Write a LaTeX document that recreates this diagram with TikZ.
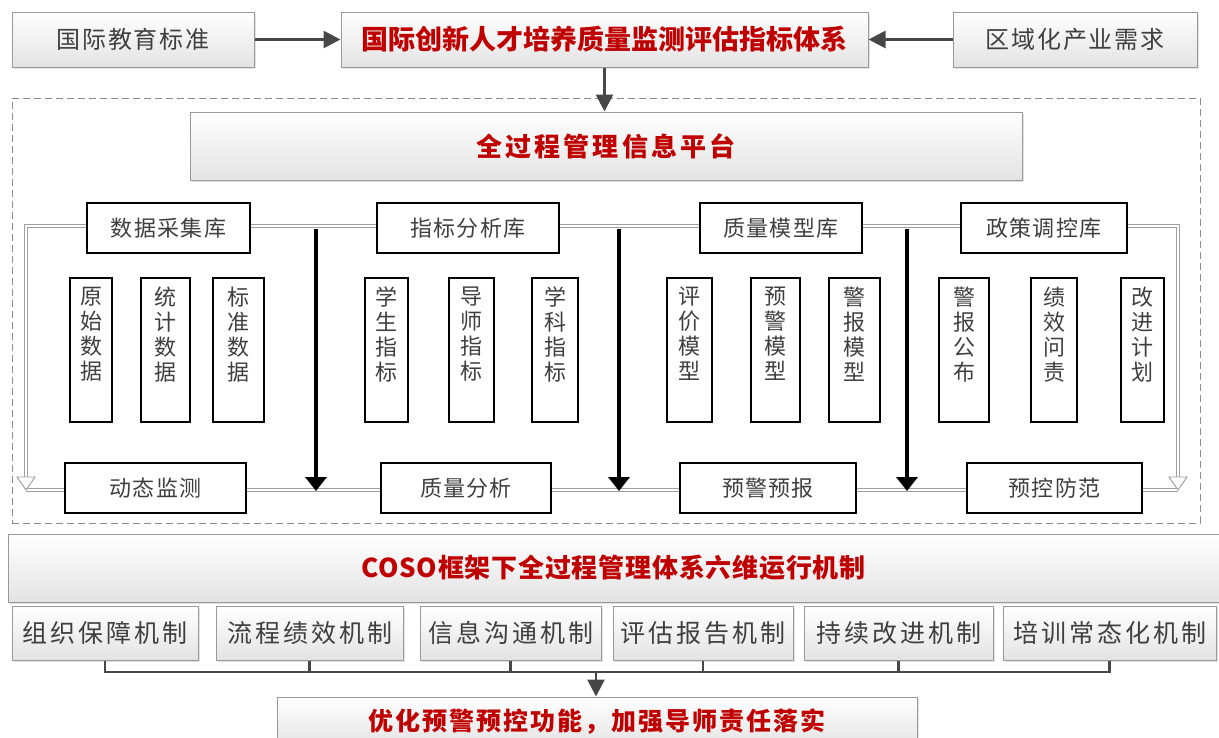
\documentclass[tikz,border=0pt]{standalone}
\usepackage{fontspec}
\setmainfont{Noto Sans CJK SC}
\usetikzlibrary{arrows.meta,shadows}
\definecolor{tred}{HTML}{C00000}
\definecolor{tgray}{HTML}{3F3F3F}
\begin{document}
\begin{tikzpicture}[x=1pt,y=-1pt,
  graybox/.style={draw=black!40, line width=1pt, top color=white, bottom color=black!11,
    drop shadow={shadow xshift=1.5pt,shadow yshift=-1.5pt,opacity=0.22},
    inner sep=0pt, text=tgray},
  grayt/.style={font=\fontsize{24}{28}\selectfont\addfontfeature{LetterSpace=8}},
  mecht/.style={font=\fontsize{25}{28}\selectfont\addfontfeature{LetterSpace=12}},
  redt/.style={text=tred},
  blackbox/.style={draw=black, line width=2pt, fill=white, inner sep=0pt, text=tgray,
    minimum height=50pt, font=\fontsize{22}{25}\selectfont\addfontfeature{LetterSpace=6}},
  itembox/.style={draw=black, line width=2pt, fill=white, inner sep=0pt, text=tgray,
    minimum height=144pt, anchor=north, font=\fontsize{22}{25}\selectfont},
  frame/.style={draw=black!45, line width=1pt, dash pattern=on 7pt off 4pt},
  dline/.style={draw=black!38, double=white, double distance=2.4pt, line width=0.9pt, line join=miter},
  otri/.style={draw=black!40, fill=white, line width=0.9pt, line join=miter},
  barrow/.style={draw=black, line width=3.6pt, -{Triangle[width=21pt,length=14pt]}},
  garrow/.style={draw=black!72, line width=2.8pt, -{Triangle[width=17pt,length=17pt]}},
  conn/.style={draw=black!72, line width=2.6pt}
]
\useasboundingbox (0,0) rectangle (1219,737);

% dashed frame
\node[frame, minimum width=1188pt, minimum height=425pt, inner sep=0pt] (fr) at (606,310.5) {};

% top row
\node[graybox, grayt, minimum width=242pt, minimum height=55pt] (std) at (133,39.5) {国际教育标准};
\node[graybox, redt, minimum width=527pt, minimum height=55pt,
  font=\fontsize{27}{30}\selectfont\bfseries\addfontfeature{LetterSpace=0}] (idx) at (604.5,39.5) {国际创新人才培养质量监测评估指标体系};
\node[graybox, grayt, minimum width=244pt, minimum height=55pt] (reg) at (1075,39.5) {区域化产业需求};

% platform
\node[graybox, redt, minimum width=832pt, minimum height=68pt,
  font=\fontsize{26}{30}\selectfont\bfseries\addfontfeature{LetterSpace=12}] (plat) at (606,146) {全过程管理信息平台};

% double-line frame
\coordinate (tl) at (26,226);
\coordinate (tr) at (1178,226);
\coordinate (bl) at (26,490);
\coordinate (br) at (1178,490);
\coordinate (tlh) at (26,477);
\coordinate (trh) at (1178,477);
\draw[dline] (tlh) -- (tl) -- (tr) -- (trh);
\draw[dline] (bl) -- (br);
\draw[otri] (17,477) -- (35,477) -- (bl) -- cycle;
\draw[otri] (1169,477) -- (1187,477) -- (br) -- cycle;

% black arrows
\coordinate (a1t) at (316,229); \coordinate (a1b) at (316,491);
\coordinate (a2t) at (619,229); \coordinate (a2b) at (619,491);
\coordinate (a3t) at (907,229); \coordinate (a3b) at (907,491);
\draw[barrow] (a1t) -- (a1b);
\draw[barrow] (a2t) -- (a2b);
\draw[barrow] (a3t) -- (a3b);

% libraries
\node[blackbox, minimum width=163pt] (l1) at (168.5,228) {数据采集库};
\node[blackbox, minimum width=182pt] (l2) at (468,228) {指标分析库};
\node[blackbox, minimum width=162pt] (l3) at (781,228) {质量模型库};
\node[blackbox, minimum width=166pt] (l4) at (1044,228) {政策调控库};

% items
\newcommand{\vt}[1]{\parbox[c][140pt][t]{30pt}{\centering\vspace*{7pt}#1}}
\node[itembox, minimum width=42pt] (i1) at (91,277) {\vt{原\\始\\数\\据}};
\node[itembox, minimum width=49pt] (i2) at (165.5,277) {\vt{统\\计\\数\\据}};
\node[itembox, minimum width=51pt] (i3) at (238.5,277) {\vt{标\\准\\数\\据}};
\node[itembox, minimum width=43pt] (i4) at (386.5,277) {\vt{学\\生\\指\\标}};
\node[itembox, minimum width=45pt] (i5) at (471.5,277) {\vt{导\\师\\指\\标}};
\node[itembox, minimum width=46pt] (i6) at (555,277) {\vt{学\\科\\指\\标}};
\node[itembox, minimum width=45pt] (i7) at (689.5,277) {\vt{评\\价\\模\\型}};
\node[itembox, minimum width=49pt] (i8) at (775.5,277) {\vt{预\\警\\模\\型}};
\node[itembox, minimum width=51pt] (i9) at (854.5,277) {\vt{警\\报\\模\\型}};
\node[itembox, minimum width=50pt] (i10) at (964,277) {\vt{警\\报\\公\\布}};
\node[itembox, minimum width=46pt] (i11) at (1054,277) {\vt{绩\\效\\问\\责}};
\node[itembox, minimum width=43pt] (i12) at (1142.5,277) {\vt{改\\进\\计\\划}};

% bottom boxes
\node[blackbox, minimum width=181pt] (b1) at (155.5,488) {动态监测};
\node[blackbox, minimum width=170pt] (b2) at (466,488) {质量分析};
\node[blackbox, minimum width=176pt] (b3) at (768,488) {预警预报};
\node[blackbox, minimum width=175pt] (b4) at (1054.5,488) {预控防范};

% COSO
\node[graybox, redt, minimum width=1211pt, minimum height=68pt,
  font=\fontsize{26}{30}\selectfont\bfseries\addfontfeature{LetterSpace=3}] (coso) at (613.5,568) {COSO框架下全过程管理体系六维运行机制};

% mechanisms
\node[graybox, mecht, minimum width=186pt, minimum height=54pt] (m1) at (105,633) {组织保障机制};
\node[graybox, mecht, minimum width=187pt, minimum height=54pt] (m2) at (309.5,633) {流程绩效机制};
\node[graybox, mecht, minimum width=181pt, minimum height=54pt] (m3) at (510.5,633) {信息沟通机制};
\node[graybox, mecht, minimum width=180pt, minimum height=54pt] (m4) at (703,633) {评估报告机制};
\node[graybox, mecht, minimum width=189pt, minimum height=54pt] (m5) at (898.5,633) {持续改进机制};
\node[graybox, mecht, minimum width=213pt, minimum height=54pt] (m6) at (1109.5,633) {培训常态化机制};

% final
\node[graybox, redt, minimum width=640pt, minimum height=50pt,
  font=\fontsize{25}{30}\selectfont\bfseries\addfontfeature{LetterSpace=8}] (fin) at (597,722) {优化预警预控功能，加强导师责任落实};

% connectors
\draw[garrow] (std.east) -- (idx.west);
\draw[garrow] (reg.west) -- (idx.east);
\draw[garrow] (idx.south) -- (idx.south |- plat.north);

\coordinate (j) at (596,672);
\draw[conn] (m1.south) -- (m1.south |- j) -- (m6.south |- j) -- (m6.south);
\draw[conn] (m2.south) -- (m2.south |- j);
\draw[conn] (m3.south) -- (m3.south |- j);
\draw[conn] (m4.south) -- (m4.south |- j);
\draw[conn] (m5.south) -- (m5.south |- j);
\draw[garrow] (j) -- (j |- fin.north);
\end{tikzpicture}
\end{document}
